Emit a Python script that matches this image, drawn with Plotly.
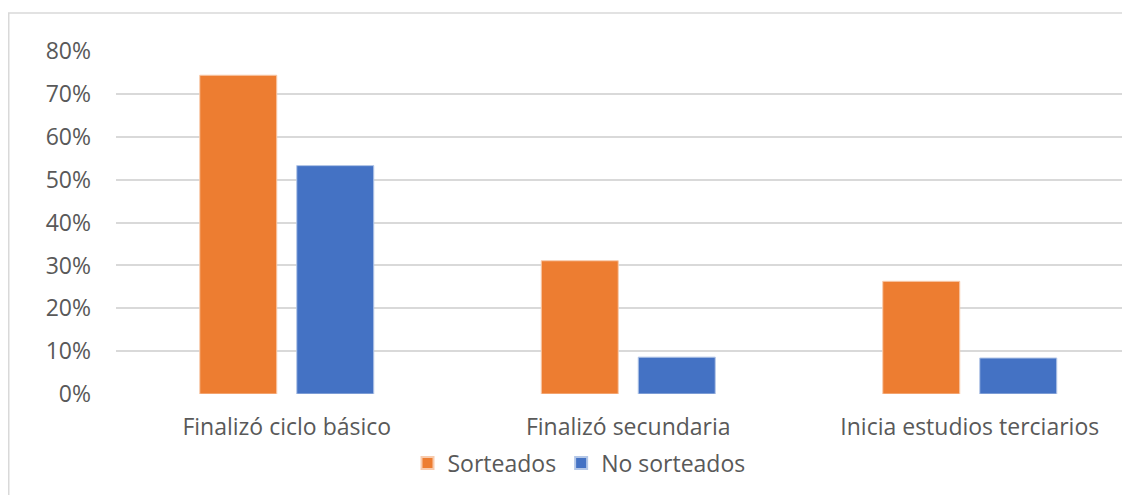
import plotly.graph_objects as go

categories = ["Finalizó ciclo básico", "Finalizó secundaria", "Inicia estudios terciarios"]
sorteados = [0.744, 0.311, 0.263]
no_sorteados = [0.533, 0.086, 0.084]
tick_vals = [0, 0.1, 0.2, 0.3, 0.4, 0.5, 0.6, 0.7, 0.8]
tick_text = ["0%", "10%", "20%", "30%", "40%", "50%", "60%", "70%", "80%"]

OFF = 8  # page body margin
W, H = 1130 - OFF, 495 - OFF
ML, MR, MT = 116 - OFF, 0, 51 - OFF
PH = 343
MB = H - MT - PH
pw = W - ML - MR
ph = PH

font = dict(family="'Open Sans', sans-serif", size=23, color="#595959")

fig = go.Figure()
fig.add_trace(go.Bar(name="Sorteados", x=categories, y=sorteados,
                     marker=dict(color="#ED7D31", line=dict(color="#F8CBAD", width=1))))
fig.add_trace(go.Bar(name="No sorteados", x=categories, y=no_sorteados,
                     marker=dict(color="#4472C4", line=dict(color="#B4C7E7", width=1))))

fig.update_layout(
    width=W, height=H,
    margin=dict(l=ML, r=MR, t=MT, b=MB, pad=0),
    paper_bgcolor="white", plot_bgcolor="white",
    font=font,
    barmode="group", bargap=0.432, bargroupgap=0.206,
    showlegend=True,
    legend=dict(orientation="h", x=(579 - 116) / pw, y=(394 - 463) / ph,
                xanchor="center", yanchor="middle", font=font,
                itemsizing="constant", traceorder="normal"),
    xaxis=dict(range=[-0.5, -0.5 + pw / 341.5], showgrid=False, zeroline=False,
               showline=False, ticks="", ticklabelstandoff=17, tickfont=font),
    yaxis=dict(range=[0, 0.8005], tickvals=tick_vals, ticktext=tick_text,
               showgrid=True, gridcolor="#D9D9D9", gridwidth=1.5, zeroline=False,
               showline=False, ticks="", ticklabelstandoff=24, tickfont=font),
)

fig.add_shape(type="rect", xref="paper", yref="paper",
              x0=(0.75 - ML) / pw, x1=1.05, y0=(394 - 520) / ph, y1=(394 - 13) / ph,
              line=dict(color="#D9D9D9", width=1.5), fillcolor="rgba(0,0,0,0)", layer="below")

fig.write_html("out.html")
